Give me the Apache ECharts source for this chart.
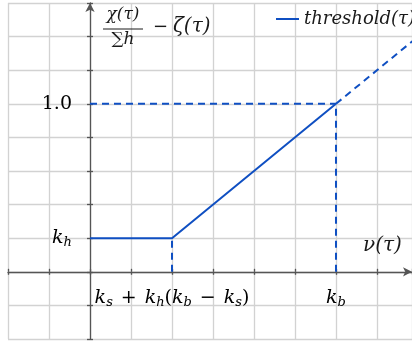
<!DOCTYPE html>
<html><head><meta charset="utf-8">
<script src="https://cdn.jsdelivr.net/npm/echarts@6/dist/echarts.min.js"></script>
<style>html,body{margin:0;padding:0;background:#fff}#c{width:412px;height:342px}</style>
</head><body><div id="c"></div>
<script>
// threshold(nu): flat at k_h, then rising linearly up to k_b
const thresholdPts = [[0, 1], [2, 1], [6, 5]];
// continuation past k_b (clipped by the plot area)
const extensionPts = [[6, 5], [9, 8]];
// guide lines
const guideLevel = [[0, 5], [6, 5]];
const guideKb = [[6, 0], [6, 5]];
const guideKnee = [[2, 0], [2, 1]];
// tick labels: [position, rich text]
const xTickLabels = [[2, '{v|k}{s|s}{o|+}{v|k}{s|h}{r|(}{v|k}{s|b}{o|−}{v|k}{s|s}{r|)}'], [6, '{v|k}{s|b}']];
const yTickLabels = [[1, '{v|k}{s|h}'], [5, '{r|1.0}']];
const X_RANGE = [-2, 7.854];
const Y_RANGE = [-2, 8];

const BLUE = '#0f4fc2';
const AXIS = '#555';
const GRIDC = '#d2d2d2';
const INK = '#1a1a1a';
const FONT = '"DejaVu Serif"';
const rich = {
  v: { fontFamily: 'DejaVu Serif', fontStyle: 'italic', fontSize: 19, color: INK },
  s: { fontFamily: 'DejaVu Serif', fontStyle: 'italic', fontSize: 13, color: INK, verticalAlign: 'bottom', padding: [9, 0, 0, 0] },
  r: { fontFamily: 'DejaVu Serif', fontSize: 19, color: INK },
  o: { fontFamily: 'DejaVu Serif', fontSize: 19, color: INK, padding: [0, 8, 0, 8] }
};

const chart = echarts.init(document.getElementById('c'), null, { renderer: 'canvas' });

function valueAxis(range, primary, pos) {
  return {
    type: 'value', min: range[0], max: range[1], interval: 1, position: pos,
    axisLine: primary
      ? { show: true, onZero: true, symbol: ['none', 'arrow'], symbolSize: [7, 9], lineStyle: { color: AXIS, width: 1.3 } }
      : { show: false, onZero: true },
    axisTick: { show: true, inside: !primary, length: 3, lineStyle: { color: AXIS, width: 1.3 } },
    splitLine: primary ? { show: true, lineStyle: { color: GRIDC, width: 1.3 } } : { show: false },
    axisLabel: { show: false }
  };
}

function guide(data) {
  return {
    type: 'line', data: data, symbol: 'none', silent: true, z: 3,
    lineStyle: { color: BLUE, width: 2, type: [7, 5] }
  };
}

chart.setOption({
  animation: false,
  backgroundColor: '#fff',
  grid: { left: 8, right: 0, top: 3, bottom: 3, containLabel: false, outerBoundsMode: 'none' },
  xAxis: [valueAxis(X_RANGE, true, 'bottom'), valueAxis(X_RANGE, false, 'bottom')],
  yAxis: [valueAxis(Y_RANGE, true, 'left'), valueAxis(Y_RANGE, false, 'left')],
  legend: {
    data: [{ name: 'threshold(τ)', icon: 'rect' }], left: 271, top: 5, itemWidth: 23, itemHeight: 2, itemGap: 8,
    itemStyle: { color: BLUE },
    textStyle: { fontFamily: 'DejaVu Serif', fontStyle: 'italic', fontSize: 18, color: INK }
  },
  series: [
    { name: 'threshold(τ)', type: 'line', data: thresholdPts, symbol: 'none', z: 4,
      lineStyle: { color: BLUE, width: 2 }, itemStyle: { color: BLUE } },
    guide(extensionPts),
    guide(guideLevel),
    guide(guideKb),
    guide(guideKnee)
  ]
});

// tick labels placed at their axis positions
const origin = chart.convertToPixel({ gridIndex: 0 }, [0, 0]);
const labels = [];
xTickLabels.forEach(([v, t]) => {
  const p = chart.convertToPixel({ gridIndex: 0 }, [v, 0]);
  labels.push({ type: 'text', x: p[0], y: origin[1] + 26, z: 10,
    style: { text: t, rich: rich, align: 'center', verticalAlign: 'middle' } });
});
yTickLabels.forEach(([v, t]) => {
  const p = chart.convertToPixel({ gridIndex: 0 }, [0, v]);
  labels.push({ type: 'text', x: origin[0] - 18, y: p[1], z: 10,
    style: { text: t, rich: rich, align: 'right', verticalAlign: 'middle' } });
});

chart.setOption({
  graphic: labels.concat([
    // y-axis name: chi(tau) / sum h - zeta(tau)
    { type: 'group', x: 103, y: 6, children: [
      { type: 'text', x: 20, y: 0, style: { text: 'χ(τ)', font: 'italic 17px ' + FONT, fill: INK, align: 'center' } },
      { type: 'line', shape: { x1: 0, y1: 23, x2: 40, y2: 23 }, style: { stroke: INK, lineWidth: 1 } },
      { type: 'text', x: 20, y: 25, style: { rich: { a: { font: '17px ' + FONT, fill: INK }, b: { font: 'italic 17px ' + FONT, fill: INK } }, text: '{a|∑}{b|h}', align: 'center' } },
      { type: 'text', x: 50, y: 12, style: { text: '−', font: '18px ' + FONT, fill: INK } },
      { type: 'text', x: 70, y: 11, style: { text: 'ζ(τ)', font: 'italic 20px ' + FONT, fill: INK } }
    ] },
    { type: 'text', x: 363, y: 236, style: { text: 'ν(τ)', font: 'italic 20px ' + FONT, fill: INK } }
  ])
});
</script>
</body></html>
